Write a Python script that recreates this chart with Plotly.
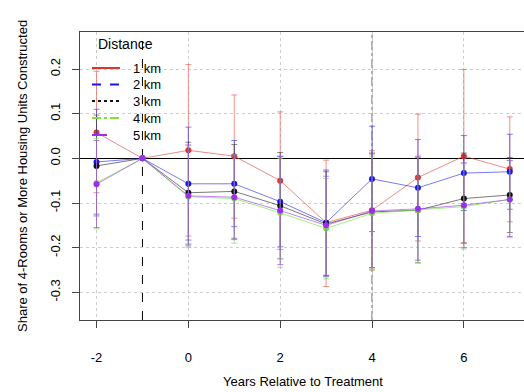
import plotly.graph_objects as go

years = [-2, -1, 0, 1, 2, 3, 4, 5, 6, 7]
labels = ["1 km", "2 km", "3 km", "4 km", "5 km"]

est_1 = [0.058, 0, 0.018, 0.005, -0.050, -0.144, -0.116, -0.043, 0.005, -0.024]
hi_1 = [0.195, 0, 0.210, 0.142, 0.104, -0.004, 0.017, 0.099, 0.199, 0.093]
lo_1 = [-0.077, 0, -0.174, -0.134, -0.204, -0.287, -0.250, -0.185, -0.189, -0.142]

est_2 = [-0.008, 0, -0.057, -0.057, -0.097, -0.144, -0.046, -0.066, -0.033, -0.030]
hi_2 = [0.110, 0, 0.070, 0.040, 0.004, -0.026, 0.072, 0.042, 0.051, 0.054]
lo_2 = [-0.125, 0, -0.183, -0.153, -0.198, -0.265, -0.164, -0.175, -0.117, -0.114]

est_3 = [-0.017, 0, -0.077, -0.074, -0.106, -0.147, -0.120, -0.116, -0.090, -0.082]
hi_3 = [0.097, 0, 0.036, 0.031, 0.013, -0.030, 0.012, 0.002, 0.012, 0.002]
lo_3 = [-0.129, 0, -0.192, -0.179, -0.225, -0.262, -0.245, -0.234, -0.190, -0.166]

est_4 = [-0.055, 0, -0.086, -0.090, -0.122, -0.157, -0.123, -0.116, -0.108, -0.092]
hi_4 = [0.045, 0, 0.028, 0.008, 0.000, -0.045, 0.005, 0.002, -0.012, -0.005]
lo_4 = [-0.158, 0, -0.200, -0.190, -0.244, -0.270, -0.250, -0.234, -0.203, -0.177]

est_5 = [-0.058, 0, -0.084, -0.087, -0.117, -0.150, -0.118, -0.113, -0.105, -0.092]
hi_5 = [0.040, 0, 0.030, 0.008, 0.005, -0.040, 0.010, 0.005, -0.010, -0.005]
lo_5 = [-0.155, 0, -0.196, -0.182, -0.238, -0.262, -0.245, -0.228, -0.200, -0.175]

y_ticks = [-0.3, -0.2, -0.1, 0.0, 0.1, 0.2]
y_ticktext = ["-0.3", "-0.2", "-0.1", "0.0", "0.1", "0.2"]
x_ticks = [-2, 0, 2, 4, 6]
x_ticktext = ["-2", "0", "2", "4", "6"]

series = [
    (est_1, hi_1, lo_1, "rgba(228,60,50,0.75)", "rgba(235,110,100,0.75)", "#E0352C", "solid"),
    (est_2, hi_2, lo_2, "rgba(30,30,245,0.75)", "rgba(70,70,240,0.7)", "#1515F0", "dash"),
    (est_3, hi_3, lo_3, "rgba(30,30,30,0.75)", "rgba(60,60,60,0.6)", "#111111", "dot"),
    (est_4, hi_4, lo_4, "rgba(110,230,60,0.8)", "rgba(130,220,90,0.7)", "#7FE040", "dashdot"),
    (est_5, hi_5, lo_5, "rgba(150,50,230,0.75)", "rgba(160,80,230,0.75)", "#9A30EE", "longdash"),
]

fig = go.Figure()
for est, hi, lo, lc, ec, mc, dash in series:
    fig.add_trace(go.Scatter(
        x=years, y=est, mode="lines+markers",
        line=dict(color=lc, width=0.8),
        marker=dict(color=mc, size=6),
        error_y=dict(type="data", symmetric=False,
                     array=[h - e for h, e in zip(hi, est)],
                     arrayminus=[e - l for e, l in zip(est, lo)],
                     color=ec, thickness=1, width=3),
        showlegend=False,
    ))

shapes = [
    dict(type="line", xref="x", yref="paper", x0=-1, x1=-1, y0=0, y1=1,
         line=dict(color="black", width=1, dash="dash"), layer="between"),
    dict(type="line", xref="x", yref="paper", x0=4, x1=4, y0=0, y1=1,
         line=dict(color="#b0b0b0", width=2, dash="dashdot"), layer="between"),
]

W, H = 524, 392
L, R, T, B = 80, 0, 32, 72
pw, ph = W - L - R, H - T - B

def px(x):
    return (x - L) / pw

def py(y):
    return (H - B - y) / ph

annotations = [
    dict(text="Distance", x=px(96), y=py(44), xref="paper", yref="paper",
         xanchor="left", yanchor="middle", showarrow=False,
         font=dict(size=14, color="black")),
]
rows = [68, 84.5, 101, 118, 135]
for (est, hi, lo, lc, ec, mc, dash), lab, ry in zip(series, labels, rows):
    shapes.append(dict(type="line", xref="paper", yref="paper",
                       x0=px(92), x1=px(120), y0=py(ry), y1=py(ry),
                       line=dict(color=mc, width=2, dash=dash), layer="above"))
    annotations.append(dict(text=lab, x=px(131), y=py(ry), xref="paper", yref="paper",
                            xanchor="left", yanchor="middle", showarrow=False,
                            font=dict(size=13, color="black")))

annotations.append(dict(text="Share of 4-Rooms or More Housing Units Constructed",
                        x=px(22), y=0.5, xref="paper", yref="paper", textangle=-90,
                        xanchor="center", yanchor="middle", showarrow=False,
                        font=dict(size=13, color="black")))
annotations.append(dict(text="Years Relative to Treatment",
                        x=px(303), y=py(381), xref="paper", yref="paper",
                        xanchor="center", yanchor="middle", showarrow=False,
                        font=dict(size=13, color="black")))

fig.update_layout(
    width=W, height=H,
    margin=dict(l=L, r=R, t=T, b=B),
    paper_bgcolor="white", plot_bgcolor="white",
    font=dict(family="Liberation Sans, Arial, sans-serif", size=13, color="black"),
    shapes=shapes, annotations=annotations,
    xaxis=dict(range=[-2.36, 7.31], tickvals=x_ticks, ticktext=x_ticktext,
               ticks="outside", ticklen=7,
               tickcolor="#444", showline=True, linecolor="#444", linewidth=1, mirror=True,
               showgrid=True, gridcolor="#cccccc", griddash="dot", gridwidth=1,
               zeroline=False, tickfont=dict(size=13), ticklabelstandoff=18),
    yaxis=dict(range=[-0.362, 0.283], tickvals=y_ticks, ticktext=y_ticktext,
               ticks="outside", ticklen=7, tickcolor="#444", tickangle=-90,
               showline=True, linecolor="#444", linewidth=1,
               showgrid=True, gridcolor="#cccccc", griddash="dot", gridwidth=1,
               zeroline=True, zerolinecolor="black", zerolinewidth=1,
               tickfont=dict(size=13), ticklabelstandoff=7),
)

fig.write_html("out.html")
